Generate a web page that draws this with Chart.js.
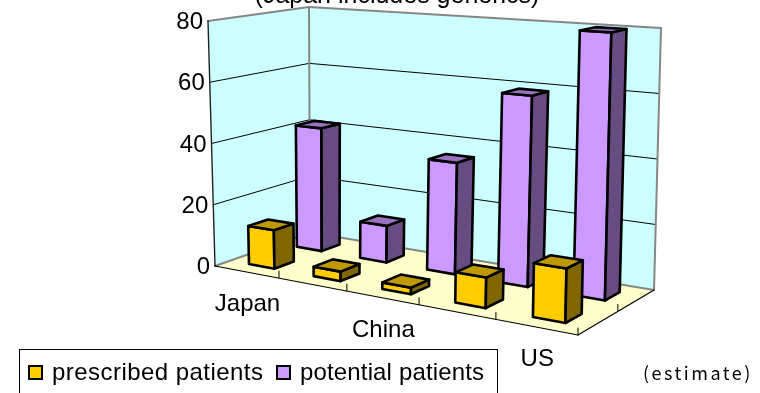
<!DOCTYPE html>
<html>
<head>
<meta charset="utf-8">
<style>
  html, body { margin: 0; padding: 0; background: #fff; overflow: hidden; }
  canvas { display: block; }
</style>
<script src="https://cdn.jsdelivr.net/npm/chart.js@4"></script>
</head>
<body>
<canvas id="patients" width="760" height="393"></canvas>
<script>
const categories = ["Japan", "", "China", "", "US"];
const prescribed = [12.5, 3, 2, 9, 15.5];
const potential = [41.5, 12, 35.5, 59, 80];
const yMax = 80;
const yStep = 20;

const FONT = '"Liberation Sans", Arial, sans-serif';
const LABEL_PX = 24;

// ===== PERSPECTIVE BOX =====
// corners of the plot box: front-left, front-right, back-right, back-left
const floorQuad = [[215, 266], [578, 335], [654, 290], [310, 232.5]];
const roofQuad = [[208, 21], [583, 46], [661, 28], [309, 7]];

function homography(q) {
  const [[x0, y0], [x1, y1], [x2, y2], [x3, y3]] = q;
  const dx1 = x1 - x2, dx2 = x3 - x2, sx = x0 - x1 + x2 - x3;
  const dy1 = y1 - y2, dy2 = y3 - y2, sy = y0 - y1 + y2 - y3;
  const den = dx1 * dy2 - dx2 * dy1;
  const g = (sx * dy2 - dx2 * sy) / den;
  const h = (dx1 * sy - sx * dy1) / den;
  const a = x1 - x0 + g * x1, b = x3 - x0 + h * x3;
  const d = y1 - y0 + g * y1, e = y3 - y0 + h * y3;
  return (u, v) => {
    const w = g * u + h * v + 1;
    return [(a * u + b * v + x0) / w, (d * u + e * v + y0) / w];
  };
}

const floorAt = homography(floorQuad);
const roofAt = homography(roofQuad);

// u along the front edge, v into the depth, t up the value axis (all 0..1)
function project(u, v, t) {
  const f = floorAt(u, v), r = roofAt(u, v);
  return [f[0] + (r[0] - f[0]) * t, f[1] + (r[1] - f[1]) * t];
}

function poly(ctx, pts, fill, stroke, lw) {
  ctx.beginPath();
  pts.forEach((p, i) => i ? ctx.lineTo(p[0], p[1]) : ctx.moveTo(p[0], p[1]));
  ctx.closePath();
  if (fill) { ctx.fillStyle = fill; ctx.fill(); }
  if (stroke) { ctx.strokeStyle = stroke; ctx.lineWidth = lw; ctx.stroke(); }
}

function line(ctx, a, b, color, lw) {
  ctx.beginPath();
  ctx.moveTo(a[0], a[1]);
  ctx.lineTo(b[0], b[1]);
  ctx.strokeStyle = color;
  ctx.lineWidth = lw;
  ctx.stroke();
}

// ===== 3D BARS =====
class Box3dController extends Chart.BarController {
  draw() {
    const ctx = this.chart.ctx;
    const area = this.chart.chartArea;
    const ds = this.getDataset();
    const vMid = (ds.row + 0.5) / 2;
    const vHalf = ds.barPercentage / 4;
    ctx.save();
    ctx.lineJoin = "round";
    this.getMeta().data.forEach(bar => {
      const u0 = (bar.x - bar.width / 2 - area.left) / area.width;
      const u1 = (bar.x + bar.width / 2 - area.left) / area.width;
      const t = (area.bottom - bar.y) / area.height;
      const v0 = vMid - vHalf, v1 = vMid + vHalf;
      poly(ctx, [project(u0, v0, 0), project(u1, v0, 0), project(u1, v0, t), project(u0, v0, t)], ds.backgroundColor, "#000", 2.6);
      poly(ctx, [project(u1, v0, 0), project(u1, v1, 0), project(u1, v1, t), project(u1, v0, t)], ds.sideColor, "#000", 2.6);
      poly(ctx, [project(u0, v0, t), project(u1, v0, t), project(u1, v1, t), project(u0, v1, t)], ds.topColor, "#000", 2.6);
    });
    ctx.restore();
  }
}
Box3dController.id = "box3d";
Box3dController.defaults = Chart.BarController.defaults;
Chart.register(Box3dController);

// ===== WALLS, FLOOR, GRIDLINES =====
const boxFrame = {
  id: "boxFrame",
  beforeDatasetsDraw(chart) {
    const ctx = chart.ctx;
    const y = chart.scales.y;
    const decimal = v => (y.bottom - y.getPixelForValue(v)) / y.height;
    ctx.save();
    ctx.lineCap = "round";
    poly(ctx, [project(0, 0, 0), project(0, 1, 0), project(0, 1, 1), project(0, 0, 1)], "#CCFFFF");
    poly(ctx, [project(0, 1, 0), project(1, 1, 0), project(1, 1, 1), project(0, 1, 1)], "#CCFFFF");
    poly(ctx, [project(0, 0, 0), project(1, 0, 0), project(1, 1, 0), project(0, 1, 0)], "#FFFFCC");

    y.ticks.forEach(tick => {
      const t = decimal(tick.value);
      if (t > 0 && t < 1) {
        line(ctx, project(0, 0, t), project(0, 1, t), "#000", 1);
        line(ctx, project(0, 1, t), project(1, 1, t), "#000", 1);
      }
    });

    // grey wall edges
    const grey = "#868686";
    line(ctx, project(0, 0, 1), project(0, 1, 1), grey, 2);
    line(ctx, project(0, 1, 1), project(1, 1, 1), grey, 2);
    line(ctx, project(1, 1, 1), project(1, 1, 0), grey, 2);
    line(ctx, project(0, 1, 1), project(0, 1, 0), grey, 2);
    line(ctx, project(0, 0, 0), project(0, 1, 0), grey, 2);
    line(ctx, project(0, 1, 0), project(1, 1, 0), grey, 2);

    // axis lines and tick marks
    line(ctx, project(0, 0, 0), project(0, 0, 1), "#222", 1.4);
    line(ctx, project(0, 0, 0), project(1, 0, 0), "#000", 1.2);
    line(ctx, project(1, 0, 0), project(1, 1, 0), "#000", 1.2);
    for (let i = 1; i <= categories.length; i++) {
      const p = project(i / categories.length, 0, 0);
      line(ctx, p, [p[0], p[1] - 7], "#000", 1);
    }
    const mid = project(1, 0.5, 0);
    line(ctx, mid, [mid[0], mid[1] - 7], "#000", 1);
    ctx.restore();
  },

  // ===== TEXT AND LEGEND =====
  afterDraw(chart) {
    const ctx = chart.ctx;
    const { x, y } = chart.scales;
    ctx.save();
    ctx.fillStyle = "#000";
    ctx.textBaseline = "alphabetic";

    ctx.textAlign = "center";
    ctx.font = "25px " + FONT;
    ctx.fillText(chart.options.plugins.title.text, 397, 3);
    ctx.font = LABEL_PX + "px " + FONT;

    ctx.textAlign = "right";
    y.ticks.forEach(tick => {
      const t = (y.bottom - y.getPixelForValue(tick.value)) / y.height;
      const p = project(0, 0, t);
      ctx.fillText(tick.label, p[0] - 5, p[1] + 8);
    });

    ctx.textAlign = "center";
    categories.forEach((name, i) => {
      const u = (x.getPixelForValue(i) - x.left) / x.width;
      const p = project(u, 0, 0);
      ctx.fillText(name, p[0] + 1, p[1] + 39);
    });

    // legend frame runs off the bottom of the canvas
    ctx.strokeStyle = "#000";
    ctx.lineWidth = 1;
    ctx.strokeRect(19.5, 349.5, 478, 60);
    const items = [[28, 52, "0.45px"], [276, 300, "0.15px"]];
    chart.data.datasets.forEach((ds, i) => {
      const [bx, tx, spacing] = items[i];
      ctx.fillStyle = ds.backgroundColor;
      ctx.fillRect(bx + 1, 366, 13, 13);
      ctx.lineWidth = 2;
      ctx.strokeRect(bx + 1, 366, 13, 13);
      ctx.fillStyle = "#000";
      ctx.textAlign = "left";
      ctx.letterSpacing = spacing;
      ctx.fillText(ds.label, tx, 380);
    });

    ctx.letterSpacing = "2.5px";
    ctx.font = '18px "Noto Sans CJK JP", sans-serif';
    ctx.fillText("(estimate)", 643, 380);
    ctx.restore();
  }
};

new Chart(document.getElementById("patients"), {
  type: "bar",
  data: {
    labels: categories,
    datasets: [
      {
        type: "box3d",
        label: "prescribed patients",
        data: prescribed,
        row: 0,
        clip: false,
        backgroundColor: "#FFCC00",
        sideColor: "#806600",
        topColor: "#BF9900",
        grouped: false,
        barPercentage: 0.4,
        categoryPercentage: 1
      },
      {
        type: "box3d",
        label: "potential patients",
        data: potential,
        row: 1,
        clip: false,
        backgroundColor: "#CC99FF",
        sideColor: "#664C80",
        topColor: "#9973BF",
        grouped: false,
        barPercentage: 0.4,
        categoryPercentage: 1
      }
    ]
  },
  options: {
    responsive: false,
    animation: false,
    layout: { padding: { left: 215, right: 182, top: 21, bottom: 127 } },
    plugins: {
      legend: { display: false },
      tooltip: { enabled: false },
      title: { display: false, text: "(Japan includes generics)" }
    },
    scales: {
      x: { display: false },
      y: { display: false, min: 0, max: yMax, ticks: { stepSize: yStep } }
    }
  },
  plugins: [boxFrame]
});
</script>
</body>
</html>
